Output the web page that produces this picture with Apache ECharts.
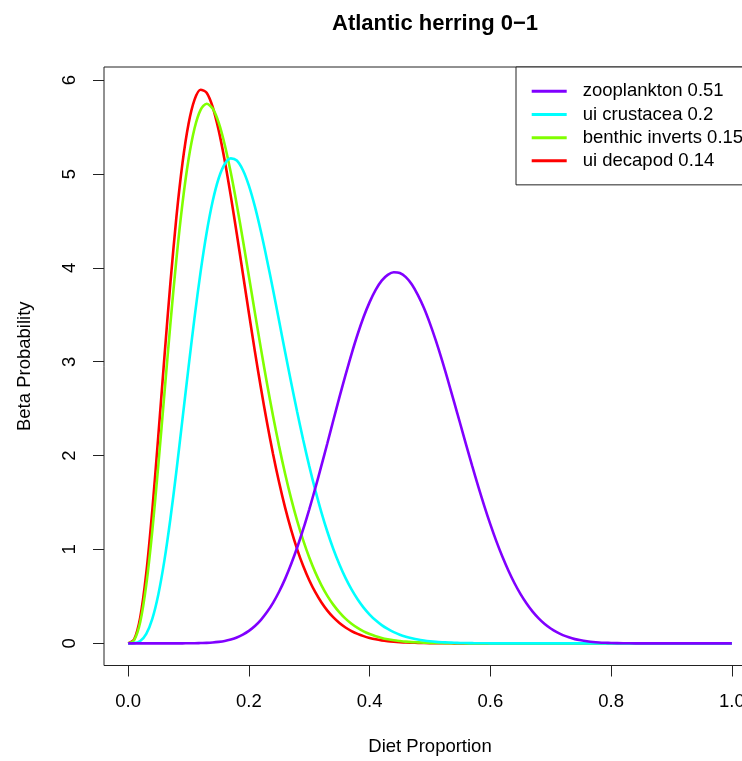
<!DOCTYPE html>
<html>
<head>
<meta charset="utf-8">
<script src="https://cdn.jsdelivr.net/npm/echarts@6/dist/echarts.min.js"></script>
<style>
html,body{margin:0;padding:0;background:#fff;overflow:hidden;}
#chart{width:800px;height:761px;}
</style>
</head>
<body>
<div id="chart"></div>
<script>
// Diet proportion (x) sample points
const xs = [0,0.01,0.02,0.03,0.04,0.05,0.06,0.07,0.08,0.09,
  0.10,0.11,0.12,0.13,0.14,0.15,0.16,0.17,0.18,0.19,
  0.20,0.21,0.22,0.23,0.24,0.25,0.26,0.27,0.28,0.29,
  0.30,0.31,0.32,0.33,0.34,0.35,0.36,0.37,0.38,0.39,
  0.40,0.41,0.42,0.43,0.44,0.45,0.46,0.47,0.48,0.49,
  0.50,0.51,0.52,0.53,0.54,0.55,0.56,0.57,0.58,0.59,
  0.60,0.61,0.62,0.63,0.64,0.65,0.66,0.67,0.68,0.69,
  0.70,0.71,0.72,0.73,0.74,0.75,0.76,0.77,0.78,0.79,
  0.80,0.82,0.84,0.86,0.88,0.90,0.92,0.94,0.96,0.98,1.00];

const zooplankton = [0,0,0,0,0,0,0,0,0,0,
  0.001,0.001,0.003,0.005,0.009,0.016,0.026,0.042,0.063,0.093,
  0.133,0.185,0.251,0.333,0.432,0.550,0.687,0.845,1.021,1.216,
  1.428,1.653,1.890,2.132,2.379,2.623,2.857,3.082,3.290,3.476,
  3.635,3.766,3.864,3.925,3.953,3.945,3.901,3.822,3.709,3.572,
  3.406,3.219,3.014,2.795,2.570,2.342,2.112,1.887,1.670,1.462,
  1.267,1.086,0.922,0.773,0.640,0.524,0.424,0.338,0.266,0.206,
  0.158,0.119,0.088,0.064,0.045,0.032,0.022,0.014,0.009,0.006,
  0.004,0.001,0,0,0,0,0,0,0,0,0];

const uiCrustacea = [0,0.002,0.024,0.101,0.261,0.521,0.881,1.327,1.839,2.388,
  2.941,3.473,3.957,4.374,4.709,4.955,5.107,5.167,5.144,5.043,
  4.876,4.652,4.384,4.085,3.766,3.436,3.104,2.778,2.464,2.166,
  1.888,1.632,1.399,1.189,1.003,0.840,0.697,0.574,0.470,0.381,
  0.307,0.245,0.194,0.153,0.119,0.092,0.071,0.054,0.040,0.030,
  0.022,0.016,0.012,0.009,0.006,0.004,0.003,0.002,0.001,0.001,
  0,0,0,0,0,0,0,0,0,0,
  0,0,0,0,0,0,0,0,0,0,
  0,0,0,0,0,0,0,0,0,0,0];

const benthicInverts = [0,0.035,0.227,0.623,1.199,1.900,2.656,3.406,4.097,4.688,
  5.155,5.487,5.683,5.749,5.698,5.547,5.312,5.015,4.671,4.299,
  3.911,3.521,3.137,2.769,2.422,2.101,1.807,1.542,1.305,1.096,
  0.914,0.756,0.621,0.506,0.410,0.330,0.263,0.208,0.164,0.128,
  0.099,0.076,0.058,0.044,0.033,0.025,0.018,0.013,0.010,0.007,
  0.005,0.004,0.003,0.002,0.001,0.001,0,0,0,0,
  0,0,0,0,0,0,0,0,0,0,
  0,0,0,0,0,0,0,0,0,0,
  0,0,0,0,0,0,0,0,0,0,0];

const uiDecapod = [0,0.043,0.276,0.747,1.418,2.212,3.044,3.840,4.545,5.116,
  5.533,5.792,5.898,5.865,5.714,5.465,5.142,4.767,4.361,3.940,
  3.519,3.108,2.717,2.352,2.018,1.716,1.446,1.209,1.002,0.824,
  0.673,0.545,0.438,0.349,0.276,0.217,0.169,0.131,0.101,0.077,
  0.058,0.043,0.032,0.024,0.018,0.013,0.009,0.007,0.005,0.003,
  0.002,0.002,0.001,0.001,0,0,0,0,0,0,
  0,0,0,0,0,0,0,0,0,0,
  0,0,0,0,0,0,0,0,0,0,
  0,0,0,0,0,0,0,0,0,0,0];

const legendNames = ['zooplankton 0.51','ui crustacea 0.2','benthic inverts 0.15','ui decapod 0.14'];
const xTicks = [0,0.2,0.4,0.6,0.8,1.0];
const yTicks = [0,1,2,3,4,5,6];

const FONT = '"Liberation Sans", Arial, Helvetica, sans-serif';

function mk(name, ys, color){
  return {
    type:'line', name:name,
    data: xs.map((x,i)=>[x, ys[i]]),
    showSymbol:false, symbol:'none', smooth:0.3,
    lineStyle:{width:2.6, color:color}, itemStyle:{color:color},
    emphasis:{disabled:true}, silent:true
  };
}

const chart = echarts.init(document.getElementById('chart'), null, {renderer:'canvas'});
chart.setOption({
  animation:false,
  backgroundColor:'#ffffff',
  title:{
    text:'Atlantic herring 0\u22121', left:430, top:8, textAlign:'center',
    textStyle:{fontFamily:FONT, fontSize:22, fontWeight:'bold', color:'#000'}
  },
  grid:{left:104, top:67, width:652, height:601, show:true, borderColor:'#222', borderWidth:1, backgroundColor:'transparent'},
  legend:{
    data:legendNames, orient:'vertical', left:516, top:67,
    icon:'rect', itemWidth:35, itemHeight:3, itemGap:4.2,
    padding:[14.75, 13, 14.5, 15.7],
    borderColor:'#222', borderWidth:1, backgroundColor:'#fff',
    selectedMode:false,
    textStyle:{fontFamily:FONT, fontSize:18.5, color:'#000', padding:[0,0,0,11]}
  },
  xAxis:{
    type:'value', min:-0.04, max:1.04, position:'bottom',
    splitLine:{show:false}, axisLine:{show:false, onZero:false},
    axisTick:{show:true, inside:false, length:11, customValues:xTicks, lineStyle:{color:'#222', width:1}},
    axisLabel:{customValues:xTicks, formatter:v=>Number(v).toFixed(1), margin:36, verticalAlign:'middle',
      fontFamily:FONT, fontSize:18.5, color:'#000'},
    name:'Diet Proportion', nameLocation:'middle', nameGap:81,
    nameTextStyle:{fontFamily:FONT, fontSize:18.5, color:'#000', verticalAlign:'middle'}
  },
  yAxis:{
    type:'value', min:-0.236, max:6.14, position:'left',
    splitLine:{show:false}, axisLine:{show:false, onZero:false},
    axisTick:{show:true, inside:false, length:11, customValues:yTicks, lineStyle:{color:'#222', width:1}},
    axisLabel:{customValues:yTicks, formatter:v=>String(Math.round(v)), rotate:90, margin:34,
      align:'center', verticalAlign:'middle', fontFamily:FONT, fontSize:18.5, color:'#000'},
    name:'Beta Probability', nameLocation:'middle', nameGap:79, nameRotate:90,
    nameTextStyle:{fontFamily:FONT, fontSize:18.5, color:'#000', verticalAlign:'middle'}
  },
  series:[
    mk('ui decapod 0.14', uiDecapod, '#FF0000'),
    mk('benthic inverts 0.15', benthicInverts, '#80FF00'),
    mk('ui crustacea 0.2', uiCrustacea, '#00FFFF'),
    mk('zooplankton 0.51', zooplankton, '#8000FF')
  ]
});
</script>
</body>
</html>
